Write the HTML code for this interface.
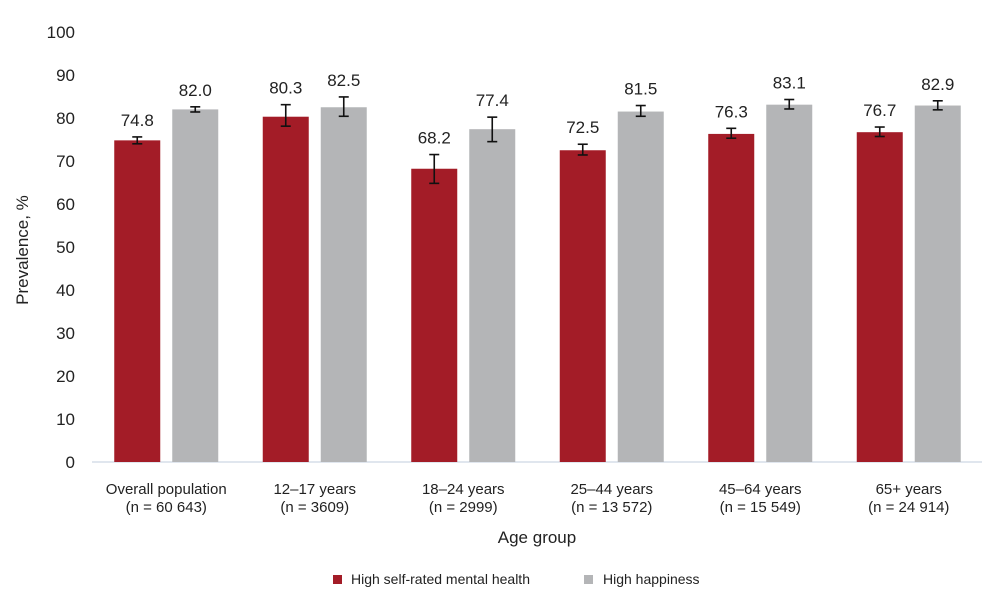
<!DOCTYPE html>
<html><head><meta charset="utf-8"><style>
body{margin:0;background:#fff;}
svg{display:block;font-family:"Liberation Sans Narrow","Liberation Sans",sans-serif;fill:#222;}
</style></head><body>
<svg id="chart" width="1000" height="614" viewBox="0 0 1000 614" xmlns="http://www.w3.org/2000/svg">
<g id="yticks"></g>
<g id="bars"></g>
<g id="xlabels"></g>
<text transform="translate(28,250) rotate(-90)" text-anchor="middle" font-size="17">Prevalence, %</text>
<text x="537" y="543" text-anchor="middle" font-size="17">Age group</text>
<g>
<rect x="333" y="575" width="9" height="9" fill="#a31c27"/>
<text x="351" y="584" font-size="14">High self-rated mental health</text>
<rect x="584" y="575" width="9" height="9" fill="#b4b5b7"/>
<text x="603" y="584" font-size="14">High happiness</text>
</g>
</svg>
<script>
const categories=["Overall population","12–17 years","18–24 years","25–44 years","45–64 years","65+ years"];
const sampleSizes=["(n = 60 643)","(n = 3609)","(n = 2999)","(n = 13 572)","(n = 15 549)","(n = 24 914)"];
const mentalHealth=[74.8,80.3,68.2,72.5,76.3,76.7];
const mentalLow=[74.0,78.1,64.8,71.4,75.3,75.7];
const mentalHigh=[75.6,83.1,71.5,73.9,77.6,77.9];
const happiness=[82.0,82.5,77.4,81.5,83.1,82.9];
const happyLow=[81.4,80.4,74.5,80.4,82.1,81.9];
const happyHigh=[82.6,84.9,80.2,82.9,84.3,84.0];
const yTicks=[0,10,20,30,40,50,60,70,80,90,100];

const NS="http://www.w3.org/2000/svg";
const y0=462, yScale=4.30, xStart=92, groupW=148.5;
const y=v=>y0-v*yScale;
const gx=i=>xStart+groupW*i+groupW/2;
function mk(tag,attrs,parent,text){const e=document.createElementNS(NS,tag);for(const k in attrs)e.setAttribute(k,attrs[k]);if(text!==undefined)e.textContent=text;parent.appendChild(e);return e;}

const yt=document.getElementById('yticks');
yTicks.forEach(t=>{
  const e=mk('text',{x:75,y:y(t)+6,'text-anchor':'end','font-size':17},yt,String(t));
  
  
});
const ax=mk('line',{x1:92,x2:982,y1:y0,y2:y0,stroke:'#d6dde8','stroke-width':1.5},yt);



const bg=document.getElementById('bars');
function bar(cx,val,lo,hi,color,name){
  const r=mk('rect',{x:cx-23,y:y(val),width:46,height:y0-y(val),fill:color},bg);
  
  
  const g=mk('g',{stroke:'#111','stroke-width':1.6},bg);
  
  
  mk('line',{x1:cx,x2:cx,y1:y(hi),y2:y(lo)},g);
  mk('line',{x1:cx-5,x2:cx+5,y1:y(hi),y2:y(hi)},g);
  mk('line',{x1:cx-5,x2:cx+5,y1:y(lo),y2:y(lo)},g);
  const t=mk('text',{x:cx,y:y(hi)-11,'text-anchor':'middle','font-size':17},bg,val.toFixed(1));
  
  
}
const xl=document.getElementById('xlabels');
categories.forEach((c,i)=>{
  const cx=gx(i);
  bar(cx-29,mentalHealth[i],mentalLow[i],mentalHigh[i],'#a31c27','bar-mental-health');
  bar(cx+29,happiness[i],happyLow[i],happyHigh[i],'#b4b5b7','bar-happiness');
  const t=mk('text',{x:cx,y:494,'text-anchor':'middle','font-size':15},xl,c);
  
  
  const n=mk('text',{x:cx,y:512,'text-anchor':'middle','font-size':15},xl,sampleSizes[i]);
  
  
});
</script>
</body></html>
